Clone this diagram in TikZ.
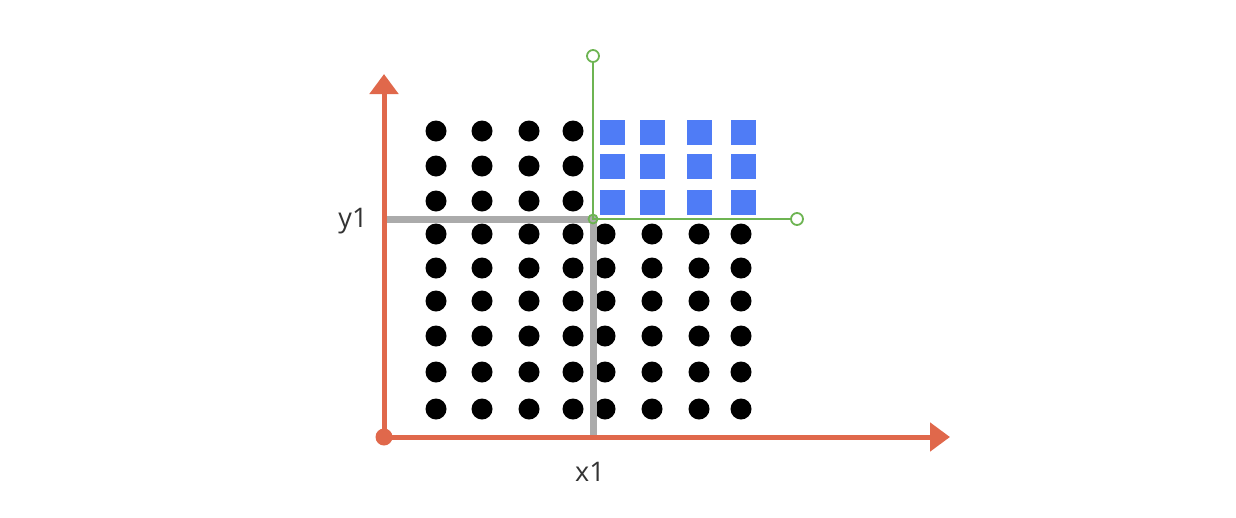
\documentclass[tikz,border=0pt]{standalone}
\usepackage{fontspec}
\setmainfont{Open Sans}
\usetikzlibrary{arrows.meta}
\definecolor{axred}{HTML}{E0684B}
\definecolor{sqblue}{HTML}{4F7CF6}
\definecolor{grn}{HTML}{6DB452}
\definecolor{gry}{HTML}{ABABAB}
\definecolor{txt}{HTML}{333333}
\tikzset{
  dot/.style={circle,fill=black,inner sep=0pt,minimum width=20pt,minimum height=21pt},
  sq/.style={rectangle,fill=sqblue,inner sep=0pt,minimum size=25pt},
  axis/.style={draw=axred,line width=5pt,-{Triangle[length=20pt,width=28pt]}},
  gaxis/.style={draw=grn,line width=1.8pt},
  ocirc/.style={circle,draw=grn,line width=1.8pt,fill=white,inner sep=0pt,minimum size=12pt},
  gline/.style={draw=gry,line width=7pt},
  lab/.style={text=txt,font=\fontsize{27}{32}\selectfont,inner sep=0pt}
}
\begin{document}
\begin{tikzpicture}[x=1pt,y=-1pt]
\useasboundingbox (0,0) rectangle (1236,517);
% dots
\foreach \xx [count=\i] in {436,482,529,573,605,652,699,741}{
  \foreach \yy [count=\j] in {131,166,201,234,268,301,336,372,409}{
    \pgfmathtruncatemacro{\show}{(\i<5) || (\j>3)}
    \ifnum\show=1
      \node[dot] (d\i-\j) at (\xx,\yy) {};
    \fi
  }
}
% blue squares
\foreach \xx [count=\i] in {612,652,699,743}{
  \foreach \yy [count=\j] in {132,166,202}{
    \node[sq] (s\i-\j) at (\xx,\yy) {};
  }
}
% gray lines
\coordinate (O) at (384,437);
\coordinate (G) at (593,219);
\coordinate (gy) at (384,219);
\coordinate (gx) at (593,437);
\draw[gline] (gy) -- (G) -- (gx);
% red axes
\coordinate (ytip) at (384,74);
\coordinate (xtip) at (950,437);
\draw[axis] (O) -- (ytip);
\draw[axis] (O) -- (xtip);
\node[circle,fill=axred,inner sep=0pt,minimum size=17pt] (o) at (O) {};
% green axes
\node[ocirc] (gtop) at (593,56) {};
\node[ocirc] (gright) at (797,219) {};
\draw[gaxis] (gtop) -- (G) -- (gright);
\node[circle,draw=grn,line width=1.8pt,inner sep=0pt,minimum size=9pt] (gorig) at (G) {};
% labels
\node[lab] (ylab) at (353,221) {y1};
\node[lab] (xlab) at (590,472) {x1};
\end{tikzpicture}
\end{document}
